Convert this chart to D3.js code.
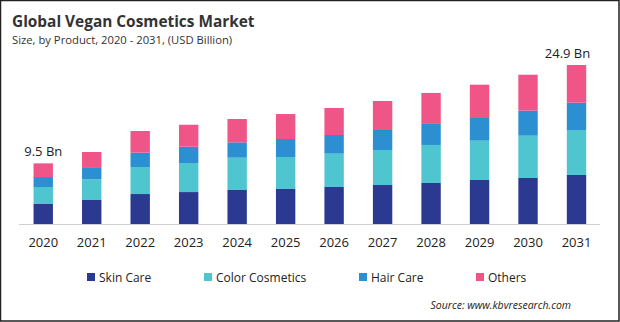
<!DOCTYPE html>
<html>
<head>
<meta charset="utf-8">
<script src="https://cdn.jsdelivr.net/npm/d3@7"></script>
<style>
  body { margin: 0; background: #fff; }
  svg { display: block; font-family: "Open Sans", sans-serif; }
</style>
</head>
<body>
<div class="chart"></div>
<script>
// data (USD Billion)
const years = ["2020","2021","2022","2023","2024","2025","2026","2027","2028","2029","2030","2031"];
const skinCare = [3.13, 3.76, 4.69, 5.00, 5.32, 5.48, 5.79, 6.10, 6.42, 6.89, 7.20, 7.67];
const colorCosmetics = [2.66, 3.24, 4.23, 4.54, 5.06, 5.00, 5.22, 5.48, 5.95, 6.15, 6.62, 7.04];
const hairCare = [1.56, 1.77, 2.24, 2.55, 2.40, 2.82, 2.92, 3.13, 3.29, 3.55, 3.91, 4.27];
const others = [2.14, 2.50, 3.39, 3.44, 3.65, 3.91, 4.23, 4.54, 4.85, 5.21, 5.63, 5.90];
const seriesNames = ["Skin Care", "Color Cosmetics", "Hair Care", "Others"];
const seriesColors = ["#2b3990", "#4ec5cf", "#2b8fd1", "#ef5587"];
const endLabels = {"2020": "9.5 Bn", "2031": "24.9 Bn"};

const width = 620;
const height = 322;

const svg = d3.select('.chart').append('svg')
    .attr('width', width)
    .attr('height', height)
    .attr('viewBox', [0, 0, width, height]);

// frame
svg.append('rect')
    .attr('x', 0.5).attr('y', 0.5)
    .attr('width', width - 1.5).attr('height', height - 1.5)
    .attr('fill', 'none')
    .attr('stroke', '#222')
    .attr('stroke-width', 1.5);

// title
svg.append('text')
    .attr('x', 12).attr('y', 27)
    .attr('font-size', 15.4)
    .attr('font-weight', 'bold')
    .attr('fill', '#333')
    .text('Global Vegan Cosmetics Market');

svg.append('text')
    .attr('x', 12).attr('y', 44)
    .attr('font-size', 11.25)
    .attr('fill', '#333')
    .text('Size, by Product, 2020 - 2031, (USD Billion)');

// build rows for the stack
const table = years.map((y, i) => ({
    year: y,
    "Skin Care": skinCare[i],
    "Color Cosmetics": colorCosmetics[i],
    "Hair Care": hairCare[i],
    "Others": others[i]
}));
const stacked = d3.stack().keys(seriesNames)(table);

const x = d3.scaleBand()
    .domain(years)
    .range([19, 600.75])
    .paddingInner(0.6)
    .paddingOuter(0.3);

const y = d3.scaleLinear()
    .domain([0, 25])
    .range([224, 64.25]);

const color = d3.scaleOrdinal().domain(seriesNames).range(seriesColors);

// bars
svg.append('g')
    .selectAll('g')
    .data(stacked)
    .join('g')
    .attr('fill', d => color(d.key))
    .selectAll('rect')
    .data(d => d)
    .join('rect')
    .attr('x', d => x(d.data.year))
    .attr('y', d => y(d[1]))
    .attr('width', x.bandwidth())
    .attr('height', d => y(d[0]) - y(d[1]));

// x axis
const xAxis = svg.append('g')
    .attr('transform', `translate(0,${y(0)})`)
    .call(d3.axisBottom(x).tickSize(0).tickPadding(14));
xAxis.select('.domain')
    .attr('d', `M19,0.5H600`)
    .attr('stroke', '#d0d0d0');
xAxis.selectAll('text')
    .attr('font-family', '"Open Sans", sans-serif')
    .attr('font-size', 13)
    .attr('fill', '#222');

// total labels on first and last bar
const totals = years.map((yr, i) => skinCare[i] + colorCosmetics[i] + hairCare[i] + others[i]);
svg.append('g')
    .selectAll('text')
    .data(years.filter(yr => endLabels[yr]))
    .join('text')
    .attr('x', yr => x(yr) + x.bandwidth() / 2 - (yr === "2031" ? 9 : 0))
    .attr('y', yr => y(totals[years.indexOf(yr)]) - 7)
    .attr('text-anchor', 'middle')
    .attr('font-size', 13)
    .attr('fill', '#222')
    .text(yr => endLabels[yr]);

// legend
const legendX = [87, 204, 359, 476];
const legend = svg.append('g')
    .selectAll('g')
    .data(seriesNames)
    .join('g')
    .attr('transform', (d, i) => `translate(${legendX[i]},273)`);
legend.append('rect')
    .attr('width', 8).attr('height', 8)
    .attr('fill', d => color(d));
legend.append('text')
    .attr('x', 12).attr('y', 8.5)
    .attr('font-size', 12)
    .attr('fill', '#222')
    .text(d => d);

// source
svg.append('text')
    .attr('x', 571).attr('y', 309)
    .attr('text-anchor', 'end')
    .attr('font-size', 10.5)
    .attr('font-style', 'italic')
    .attr('fill', '#222')
    .text('Source: www.kbvresearch.com');
</script>
</body>
</html>
